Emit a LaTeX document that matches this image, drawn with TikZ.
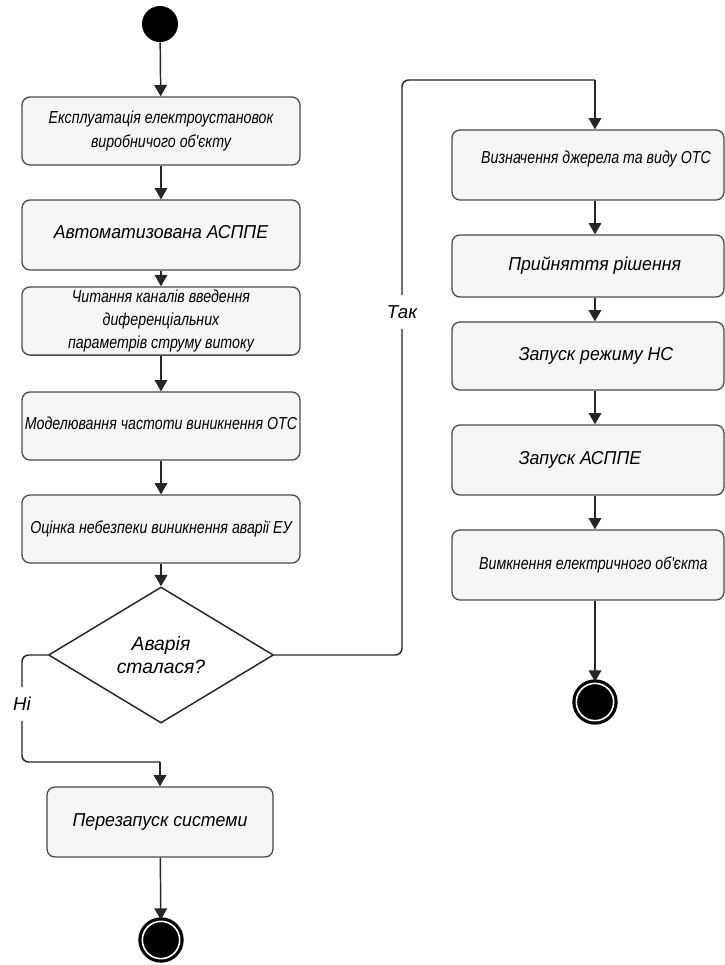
\documentclass[tikz,border=0pt]{standalone}
\usepackage{fontspec}
\setmainfont{Liberation Sans}
\newfontfamily\narrowfont{Liberation Sans}[FakeStretch=0.82]
\newfontfamily\wideish{Liberation Sans}[FakeStretch=0.95]
\usetikzlibrary{arrows.meta,shapes.geometric}

\tikzset{
  actbox/.style={draw=black!70, fill=black!4, line width=1pt, rounded corners=6pt,
    inner sep=2pt, align=center, font=\narrowfont\itshape\fontsize{13}{17.5}\selectfont},
  bigtext/.style={font=\wideish\itshape\fontsize{14}{17}\selectfont},
  flow/.style={draw=black!85, line width=1.1pt, -{Triangle[width=9.5pt,length=8.5pt]}},
  plainline/.style={draw=black!85, line width=1.1pt, rounded corners=5pt},
  startdot/.style={circle, fill=black, minimum size=27pt, inner sep=0pt},
  enddot/.style={circle, draw=black, fill=black, double=white, double distance=1.2pt,
    line width=2.4pt, minimum size=28pt, inner sep=0pt},
  decision/.style={diamond, draw=black!85, fill=white, line width=1.1pt, inner sep=0pt,
    minimum width=168.75pt, minimum height=102pt, align=center,
    font=\itshape\fontsize{14.5}{17}\selectfont},
  lbl/.style={fill=white, inner xsep=2pt, inner ysep=8pt, font=\itshape\fontsize{14}{17}\selectfont}
}

\begin{document}
\begin{tikzpicture}[x=0.75pt, y=-0.75pt]
  \useasboundingbox (0,0) rectangle (725,965);

  % left column
  \node[startdot] (start) at (160,24) {};
  \node[actbox, minimum width=208.5pt, minimum height=51pt] (b1) at (161,131)
    {Експлуатація електроустановок\\виробничого об'єкту};
  \node[actbox, bigtext, minimum width=208.5pt, minimum height=52.5pt] (b2) at (161,235)
    {\raisebox{4pt}{Автоматизована АСППЕ}};
  \node[actbox, minimum width=208.5pt, minimum height=51pt] (b3) at (161,321)
    {Читання каналів введення\\диференціальних\\параметрів струму витоку};
  \node[actbox, minimum width=208.5pt, minimum height=51pt] (b4) at (161,426)
    {\raisebox{4.5pt}{Моделювання частоти виникнення ОТС}};
  \node[actbox, minimum width=208.5pt, minimum height=51pt] (b5) at (161,529)
    {\raisebox{3pt}{Оцінка небезпеки виникнення аварії ЕУ}};
  \node[decision] (dec) at (161,655) {Аварія\\сталася?};
  \node[actbox, bigtext, minimum width=169.5pt, minimum height=52.5pt] (b6) at (160,822)
    {\raisebox{3pt}{Перезапуск системи}};
  \node[enddot] (end1) at (161,940) {};

  \draw[flow] (start) -- (b1);
  \draw[flow] (b1) -- (b2);
  \draw[flow] (b2) -- (b3);
  \draw[flow] (b3) -- (b4);
  \draw[flow] (b4) -- (b5);
  \draw[flow] (b5) -- (dec.north);
  \draw[flow] (b6) -- (end1);

  % "no" branch
  \coordinate (noA) at (22,655);
  \coordinate (noB) at (22,762);
  \coordinate (noC) at (160,762);
  \draw[plainline] (dec.west) -- (noA) -- (noB) -- (noC);
  \draw[flow] (noC) -- (b6.north);
  \node[lbl] (no) at (22,704) {Ні};

  % right column
  \node[actbox, minimum width=204pt, minimum height=52.5pt] (r1) at (588,165)
    {\hspace*{12pt}\raisebox{11pt}{Визначення джерела та виду ОТС}};
  \node[actbox, bigtext, minimum width=204pt, minimum height=46.5pt] (r2) at (588,266)
    {\hspace*{10pt}Прийняття рішення};
  \node[actbox, bigtext, minimum width=204pt, minimum height=51pt] (r3) at (588,356)
    {\hspace*{12pt}Запуск режиму НС};
  \node[actbox, bigtext, minimum width=204pt, minimum height=52.5pt] (r4) at (588,460)
    {\hspace*{-12pt}Запуск АСППЕ};
  \node[actbox, minimum width=204pt, minimum height=52.5pt] (r5) at (588,565)
    {\hspace*{8pt}Вимкнення електричного об'єкта};
  \node[enddot] (end2) at (595,702) {};

  % "yes" branch
  \coordinate (yesA) at (402,655);
  \coordinate (yesB) at (402,80);
  \coordinate (yesC) at (595,80);
  \draw[plainline] (dec.east) -- (yesA) -- (yesB) -- (yesC);
  \draw[flow] (yesC) -- (yesC |- r1.north);
  \node[lbl] (yes) at (402,312) {Так};

  \draw[flow] ([xshift=5.25pt]r1.south) -- ([xshift=5.25pt]r2.north);
  \draw[flow] ([xshift=5.25pt]r2.south) -- ([xshift=5.25pt]r3.north);
  \draw[flow] ([xshift=5.25pt]r3.south) -- ([xshift=5.25pt]r4.north);
  \draw[flow] ([xshift=5.25pt]r4.south) -- ([xshift=5.25pt]r5.north);
  \draw[flow] ([xshift=5.25pt]r5.south) -- (end2);
\end{tikzpicture}
\end{document}
